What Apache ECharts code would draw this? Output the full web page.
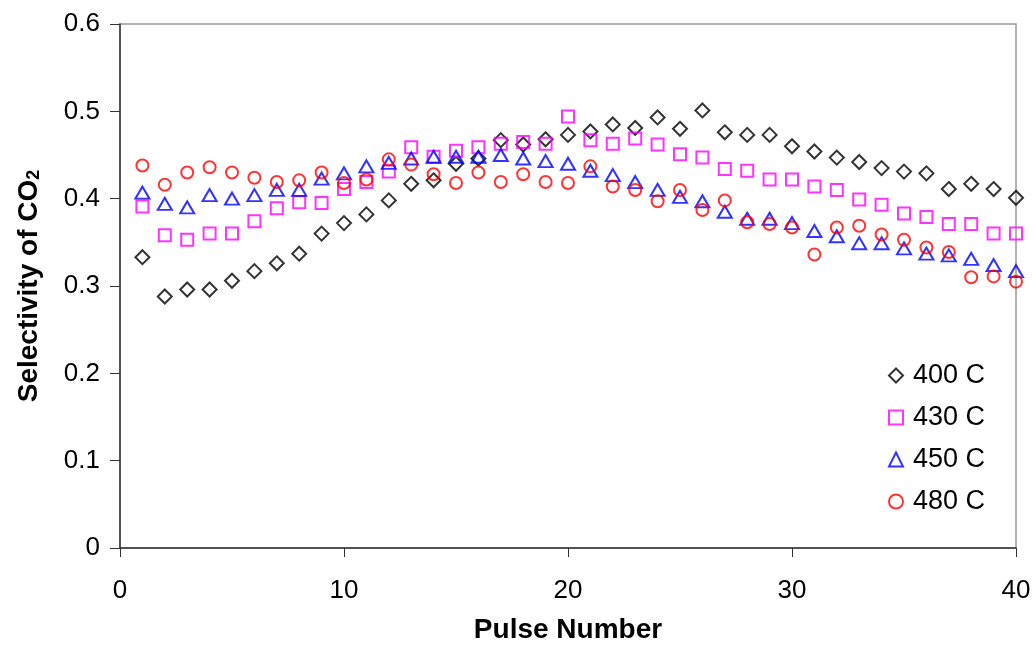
<!DOCTYPE html>
<html>
<head>
<meta charset="utf-8">
<title>Selectivity of CO2 vs Pulse Number</title>
<script src="https://cdn.jsdelivr.net/npm/echarts@6/dist/echarts.min.js"></script>
<style>
  html, body { margin: 0; padding: 0; background: #ffffff; }
  #chart { width: 1034px; height: 649px; }
</style>
</head>
<body>
<div id="chart"></div>
<script>
// Pulse numbers 1..40
const pulses = [1,2,3,4,5,6,7,8,9,10,11,12,13,14,15,16,17,18,19,20,
                21,22,23,24,25,26,27,28,29,30,31,32,33,34,35,36,37,38,39,40];

// CO2 selectivity per pulse at each reactor temperature
const sel400 = [0.333,0.288,0.296,0.296,0.306,0.317,0.326,0.337,0.360,0.372,
                0.382,0.398,0.417,0.421,0.440,0.446,0.467,0.462,0.468,0.473,
                0.477,0.485,0.481,0.493,0.480,0.501,0.476,0.473,0.473,0.460,
                0.454,0.447,0.442,0.435,0.431,0.429,0.411,0.417,0.411,0.401];
const sel430 = [0.391,0.358,0.353,0.360,0.360,0.374,0.389,0.396,0.395,0.411,
                0.419,0.431,0.459,0.448,0.455,0.459,0.463,0.465,0.463,0.494,
                0.467,0.463,0.469,0.462,0.451,0.447,0.434,0.432,0.422,0.422,
                0.414,0.410,0.399,0.393,0.383,0.379,0.371,0.371,0.360,0.360];
const sel450 = [0.407,0.394,0.390,0.404,0.400,0.404,0.410,0.410,0.423,0.429,
                0.437,0.441,0.446,0.448,0.448,0.448,0.450,0.446,0.443,0.440,
                0.432,0.427,0.419,0.410,0.402,0.397,0.385,0.377,0.377,0.372,
                0.363,0.357,0.349,0.349,0.343,0.337,0.335,0.331,0.324,0.317];
const sel480 = [0.438,0.416,0.430,0.436,0.430,0.424,0.419,0.421,0.430,0.418,
                0.422,0.445,0.439,0.428,0.418,0.430,0.419,0.428,0.419,0.418,
                0.437,0.414,0.410,0.397,0.410,0.387,0.398,0.373,0.371,0.367,
                0.336,0.367,0.369,0.359,0.353,0.344,0.339,0.310,0.311,0.305];

const seriesNames = ['400 C', '430 C', '450 C', '480 C'];

const FONT = '"Liberation Sans", Arial, sans-serif';

function pairs(values) {
  return pulses.map((p, i) => [p, values[i]]);
}

function scatter(name, values, symbol, size, color) {
  return {
    name: name,
    type: 'scatter',
    data: pairs(values),
    symbol: symbol,
    symbolSize: size,
    itemStyle: { color: 'rgba(0,0,0,0)', borderColor: color, borderWidth: 2 },
    emphasis: { disabled: true },
    z: 3
  };
}

const chart = echarts.init(document.getElementById('chart'), null, { renderer: 'canvas' });

chart.setOption({
  animation: false,
  backgroundColor: '#ffffff',
  grid: {
    left: 120, right: 18, top: 24, bottom: 94,
    show: true, borderColor: '#999999', borderWidth: 1.5, backgroundColor: 'transparent'
  },
  legend: {
    data: seriesNames,
    orient: 'vertical',
    left: 883,
    top: 357,
    itemWidth: 14,
    itemHeight: 14,
    itemGap: 15,
    textStyle: { fontFamily: FONT, fontSize: 27, color: '#000', lineHeight: 27, padding: [0, 0, 0, 5] },
    selectedMode: false
  },
  xAxis: {
    type: 'value',
    min: 0, max: 40, interval: 10,
    name: 'Pulse Number',
    nameLocation: 'middle',
    nameGap: 68,
    nameTextStyle: { fontFamily: FONT, fontSize: 28, fontWeight: 'bold', color: '#000' },
    axisLine: { show: true, onZero: false, lineStyle: { color: '#333333', width: 1.5 } },
    axisTick: { show: true, inside: false, length: 9, lineStyle: { color: '#333333', width: 1 } },
    axisLabel: { fontFamily: FONT, fontSize: 26, color: '#000', margin: 30 },
    splitLine: { show: false }
  },
  yAxis: {
    type: 'value',
    min: 0, max: 0.6, interval: 0.1,
    name: 'Selectivity of CO{sub|2}',
    nameLocation: 'middle',
    nameGap: 77,
    nameRotate: 90,
    nameTextStyle: {
      fontFamily: FONT, fontSize: 28, fontWeight: 'bold', color: '#000',
      rich: {
        sub: { fontFamily: FONT, fontSize: 18, fontWeight: 'bold', color: '#000', verticalAlign: 'bottom', padding: [10, 0, 0, 0] }
      }
    },
    axisLine: { show: true, onZero: false, lineStyle: { color: '#333333', width: 1.5 } },
    axisTick: { show: true, inside: false, length: 10, lineStyle: { color: '#333333', width: 1 } },
    axisLabel: {
      fontFamily: FONT, fontSize: 26, color: '#000', margin: 20,
      formatter: v => (Math.abs(v) < 1e-9 ? '0' : v.toFixed(1))
    },
    splitLine: { show: false }
  },
  series: [
    scatter(seriesNames[0], sel400, 'diamond', 14, '#000000'),
    scatter(seriesNames[1], sel430, 'rect', 12, '#ff00ff'),
    scatter(seriesNames[2], sel450, 'triangle', [14, 12], '#0000ff'),
    scatter(seriesNames[3], sel480, 'circle', 12, '#ff0000')
  ]
});
</script>
</body>
</html>
